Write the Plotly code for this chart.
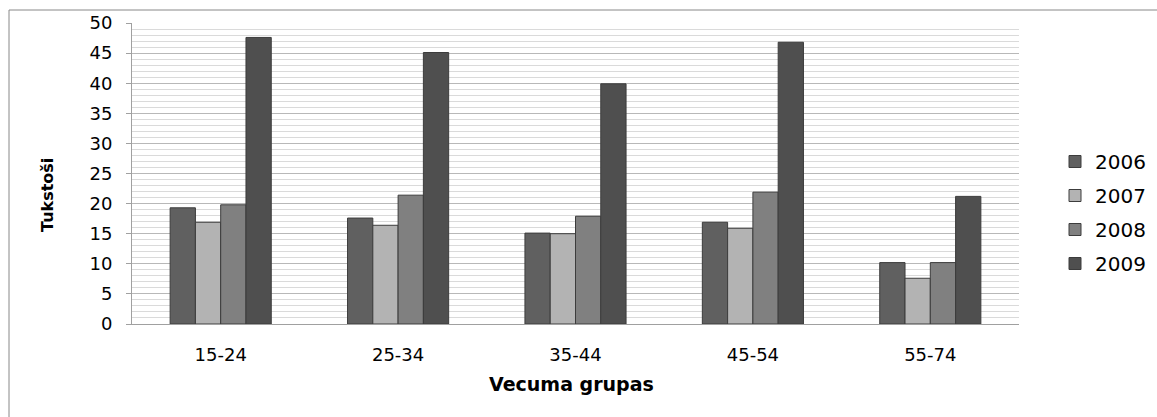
import plotly.graph_objects as go

categories = ["15-24", "25-34", "35-44", "45-54", "55-74"]
years = ["2006", "2007", "2008", "2009"]
v2006 = [19.3, 17.6, 15.1, 16.9, 10.2]
v2007 = [16.9, 16.4, 15.0, 15.9, 7.6]
v2008 = [19.8, 21.4, 17.9, 21.9, 10.2]
v2009 = [47.6, 45.1, 39.9, 46.8, 21.2]
series = [v2006, v2007, v2008, v2009]
colors = ["#606060", "#b3b3b3", "#808080", "#4f4f4f"]

FONT = "DejaVu Sans"

fig = go.Figure()
for name, vals, col in zip(years, series, colors):
    fig.add_trace(go.Bar(
        x=categories, y=vals, name=name, legendgroup=name,
        marker=dict(color=col, line=dict(color="#3c3c3c", width=1)),
    ))

W, H = 1157, 417
L, R, T, B = 132, 138, 23, 93
pw, ph = W - L - R, H - T - B

fig.update_layout(
    width=W, height=H,
    margin=dict(l=L, r=R, t=T, b=B, autoexpand=False),
    paper_bgcolor="white", plot_bgcolor="white",
    barmode="group", bargap=0.43, bargroupgap=0,
    font=dict(family=FONT, size=16, color="#000000"),
    showlegend=True,
    legend=dict(
        xref="container", yref="container",
        x=1055 / W, y=1 - 142 / H, xanchor="left", yanchor="top",
        font=dict(family=FONT, size=20, color="#000000"),
        tracegroupgap=5, itemwidth=30, bgcolor="rgba(0,0,0,0)",
    ),
    xaxis=dict(
        showline=True, linecolor="#a0a0a0", linewidth=1,
        ticks="", tickfont=dict(family=FONT, size=18),
        ticklabelstandoff=14, showgrid=False,
    ),
    yaxis=dict(
        range=[0, 50], dtick=5, tick0=0,
        showline=True, linecolor="#a0a0a0", linewidth=1,
        ticks="outside", ticklen=5, tickcolor="#a0a0a0",
        tickfont=dict(family=FONT, size=18),
        ticklabelstandoff=10,
        showgrid=True, gridcolor="#b8b8b8", gridwidth=1,
        minor=dict(dtick=1, showgrid=True, gridcolor="#dadada", gridwidth=1),
        zeroline=False,
    ),
    shapes=[dict(
        type="rect", xref="paper", yref="paper",
        x0=(9 - L) / pw, x1=(1160 - L) / pw,
        y0=(324 - 420) / ph, y1=(324 - 10) / ph,
        line=dict(color="#888888", width=1), fillcolor="rgba(0,0,0,0)", layer="below",
    )],
    annotations=[
        dict(text="<b>Tukstoši</b>", xref="paper", yref="paper",
             x=(47 - L) / pw, y=(324 - 195) / ph, textangle=-90,
             showarrow=False, font=dict(family=FONT, size=16, color="#000000"),
             xanchor="center", yanchor="middle"),
        dict(text="<b>Vecuma grupas</b>", xref="paper", yref="paper",
             x=(571 - L) / pw, y=(324 - 384) / ph,
             showarrow=False, font=dict(family=FONT, size=19, color="#000000"),
             xanchor="center", yanchor="middle"),
    ],
)

fig.write_html("out.html")
